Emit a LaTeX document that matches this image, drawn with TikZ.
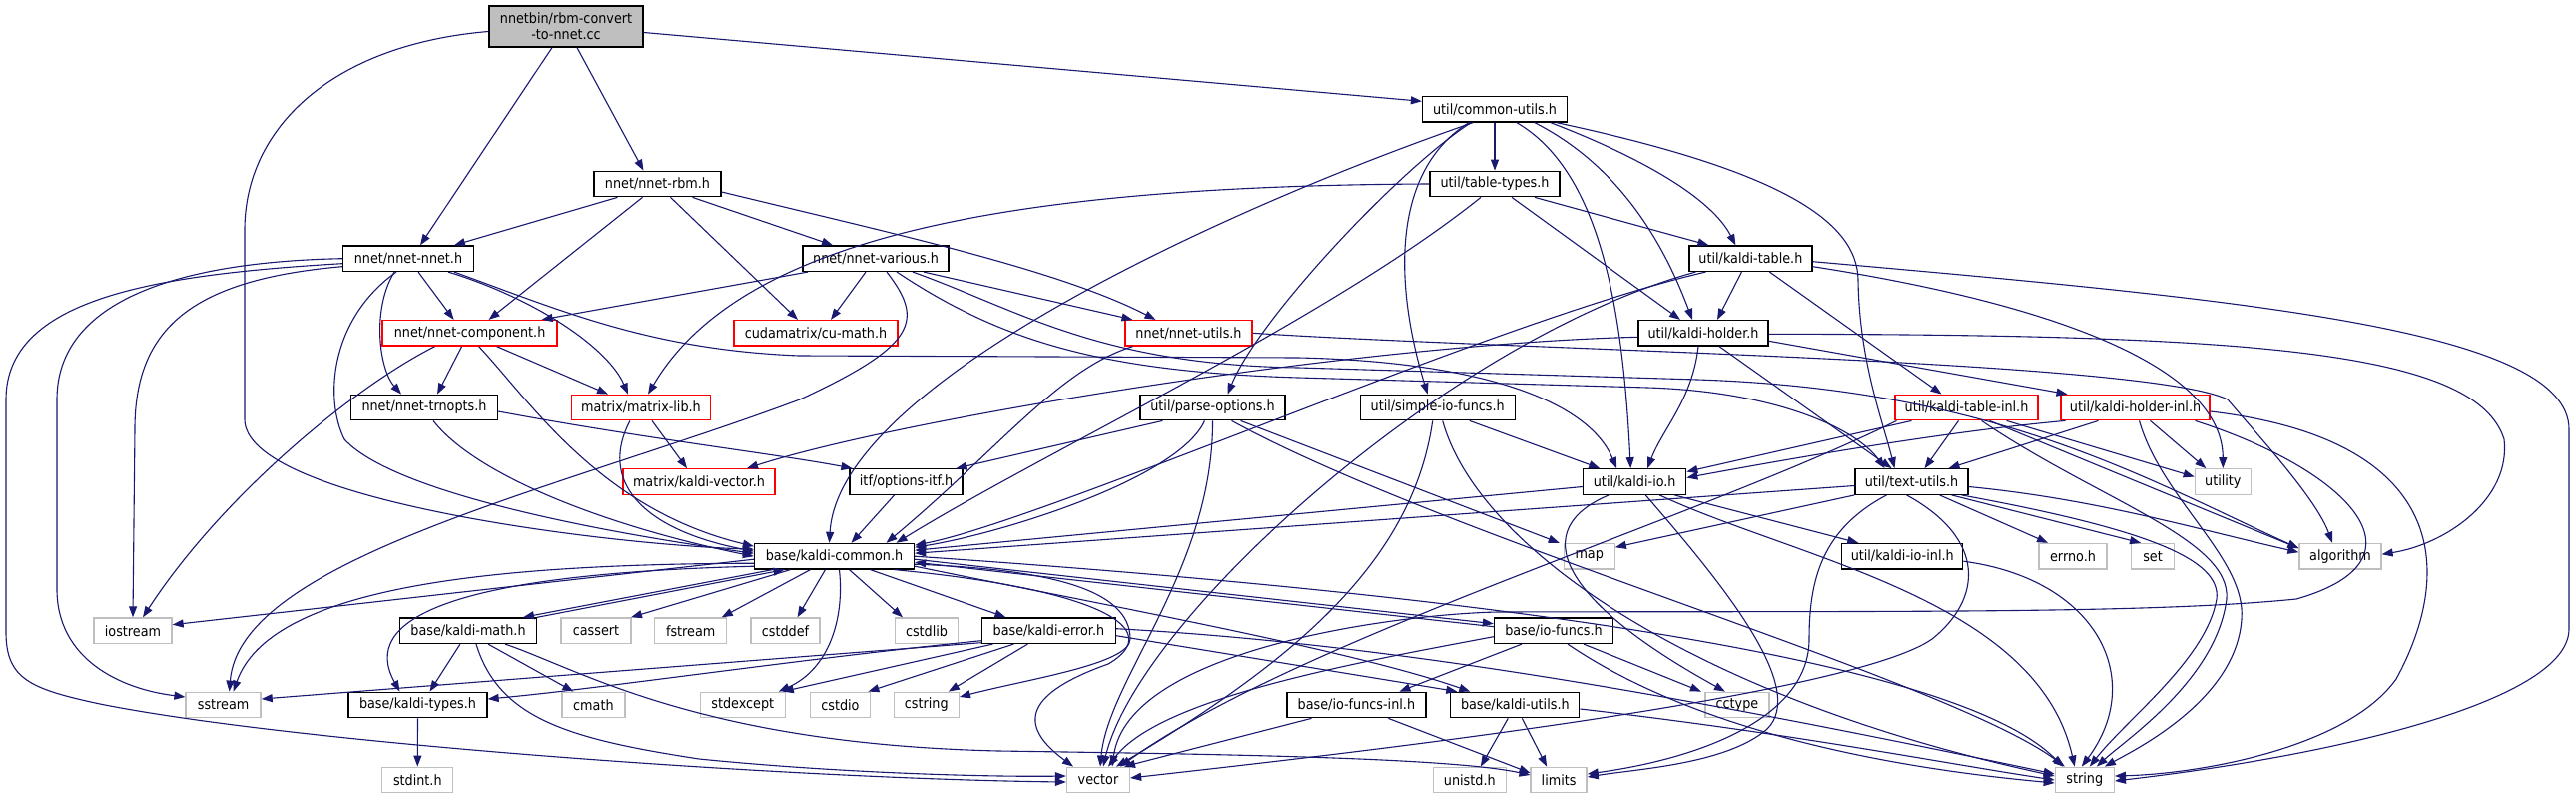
\documentclass[tikz,border=0pt]{standalone}
\usepackage{fontspec}
\setmainfont{DejaVu Sans}[FakeStretch=0.9]
\usetikzlibrary{arrows.meta}
\definecolor{edgec}{HTML}{191970}
\definecolor{boxgray}{HTML}{BFBFBF}
\definecolor{boxred}{HTML}{FF0000}
\newcommand\nodefont{\fontsize{14.2pt}{16pt}\selectfont}
\begin{document}
\begin{tikzpicture}[x=1pt,y=-1pt,
  nb/.style={draw=black, fill=white, line width=1.3pt, inner sep=0pt, minimum height=25.5pt, font=\nodefont},
  nr/.style={nb, draw=boxred},
  ng/.style={nb, draw=boxgray},
  inc/.style={draw=edgec, line width=1.1pt, -{Triangle[length=11pt,width=8pt]}}]
\fill[white] (0,0) rectangle (2580,800);
\useasboundingbox (0,0) rectangle (2580,800);
% nodes
\node[nb, fill=boxgray, minimum width=154pt, minimum height=41pt, align=center] (rbm) at (567,26.5) {nnetbin/rbm-convert\\-to-nnet.cc};
\node[nb, minimum width=127pt] (rbmh) at (658.5,184) {nnet/nnet-rbm.h};
\node[nb, minimum width=131pt] (nnet) at (409,258.7) {nnet/nnet-nnet.h};
\node[nb, minimum width=146pt] (various) at (877,258.7) {nnet/nnet-various.h};
\node[nr, minimum width=175pt] (comp) at (470.6,333.3) {nnet/nnet-component.h};
\node[nr, minimum width=164pt] (cumath) at (817,333.3) {cudamatrix/cu-math.h};
\node[nr, minimum width=127pt] (nutils) at (1190.5,333.3) {nnet/nnet-utils.h};
\node[nb, minimum width=147pt] (trnopts) at (425,408) {nnet/nnet-trnopts.h};
\node[nr, minimum width=139pt] (mlib) at (642,408) {matrix/matrix-lib.h};
\node[nr, minimum width=152pt] (vec) at (700,482.5) {matrix/kaldi-vector.h};
\node[nb, minimum width=113pt] (optitf) at (907.6,482.5) {itf/options-itf.h};
\node[nb, minimum width=160pt] (kc) at (835.5,557.2) {base/kaldi-common.h};
\node[nb, minimum width=145pt] (cu) at (1497,109.3) {util/common-utils.h};
\node[nb, minimum width=130pt] (tt) at (1497,184) {util/table-types.h};
\node[nb, minimum width=123pt] (ktab) at (1753.4,258.7) {util/kaldi-table.h};
\node[nb, minimum width=130pt] (khold) at (1706,333.3) {util/kaldi-holder.h};
\node[nb, minimum width=145pt] (po) at (1214.5,408) {util/parse-options.h};
\node[nb, minimum width=155pt] (sio) at (1439.7,408) {util/simple-io-funcs.h};
\node[nr, minimum width=143pt] (ktinl) at (1969.5,408) {util/kaldi-table-inl.h};
\node[nr, minimum width=149pt] (khinl) at (2138.5,408) {util/kaldi-holder-inl.h};
\node[nb, minimum width=103pt] (kio) at (1637.2,482.5) {util/kaldi-io.h};
\node[nb, minimum width=113pt] (tu) at (1914.5,482.5) {util/text-utils.h};
\node[ng, minimum width=56pt] (utility) at (2226.3,482.5) {utility};
\node[ng, minimum width=51pt] (map) at (1591.7,557.2) {map};
\node[nb, minimum width=121pt] (kioinl) at (1905.2,557.2) {util/kaldi-io-inl.h};
\node[ng, minimum width=68pt] (errno) at (2076,557.2) {errno.h};
\node[ng, minimum width=43pt] (set) at (2156,557.2) {set};
\node[ng, minimum width=82pt] (algo) at (2344,557.2) {algorithm};
\node[ng, minimum width=78pt] (iostream) at (133,631.7) {iostream};
\node[nb, minimum width=137pt] (kmath) at (469,631.7) {base/kaldi-math.h};
\node[ng, minimum width=70pt] (cassert) at (597,631.7) {cassert};
\node[ng, minimum width=72pt] (fstream) at (691.7,631.7) {fstream};
\node[ng, minimum width=69pt] (cstddef) at (786.5,631.7) {cstddef};
\node[ng, minimum width=63pt] (cstdlib) at (928,631.7) {cstdlib};
\node[nb, minimum width=134pt] (kerr) at (1050.4,631.7) {base/kaldi-error.h};
\node[nb, minimum width=119pt] (iof) at (1556,631.7) {base/io-funcs.h};
\node[ng, minimum width=75pt] (sstream) at (223.6,706) {sstream};
\node[nb, minimum width=139pt] (ktypes) at (418.5,706) {base/kaldi-types.h};
\node[ng, minimum width=63pt] (cmath) at (594.4,706) {cmath};
\node[ng, minimum width=85pt] (stdexcept) at (743.8,706) {stdexcept};
\node[ng, minimum width=60pt] (cstdio) at (841.4,706) {cstdio};
\node[ng, minimum width=65pt] (cstring) at (927.8,706) {cstring};
\node[nb, minimum width=139pt] (iofinl) at (1358.4,706) {base/io-funcs-inl.h};
\node[nb, minimum width=129pt] (kutils) at (1517.3,706) {base/kaldi-utils.h};
\node[ng, minimum width=64pt] (cctype) at (1739.9,706) {cctype};
\node[ng, minimum width=71pt] (stdint) at (418.3,781) {stdint.h};
\node[ng, minimum width=63pt] (vector) at (1100,781) {vector};
\node[ng, minimum width=73pt] (unistd) at (1471.8,781) {unistd.h};
\node[ng, minimum width=56pt] (limits) at (1561.1,781) {limits};
\node[ng, minimum width=59pt] (string) at (2087.8,781) {string};
% rbm
\draw[inc] ([xshift=-14pt]rbm.south) -- ([xshift=12pt]nnet.north);
\draw[inc] ([xshift=11pt]rbm.south) -- ([xshift=-14pt]rbmh.north);
\draw[inc] ([yshift=-6pt]rbm.east) -- ([yshift=8pt]cu.west);
\draw[inc] ([yshift=-5pt]rbm.west) .. controls (330,45) and (245,130) .. (245,230) -- (245,420) .. controls (245,500) and (600,545) .. ([yshift=7pt]kc.west);
% rbmh
\draw[inc] ([xshift=-40pt]rbmh.south) -- ([xshift=46pt]nnet.north);
\draw[inc] ([xshift=-15pt]rbmh.south) -- ([xshift=19pt]comp.north);
\draw[inc] ([xshift=35pt]rbmh.south) -- ([xshift=-43pt]various.north);
\draw[inc] ([xshift=13pt]rbmh.south) -- ([xshift=-18pt]cumath.north);
\draw[inc] ([yshift=-8pt]rbmh.east) .. controls (900,235) and (1060,270) .. ([xshift=-33pt]nutils.north);
% nnet
\draw[inc] ([yshift=-8pt]nnet.west) .. controls (190,280) and (135,330) .. (135,430) -- (iostream.north);
\draw[inc] (nnet.west) .. controls (180,262) and (57,300) .. (57,400) -- (57,590) .. controls (57,660) and (120,690) .. ([yshift=8pt]sstream.west);
\draw[inc] ([yshift=-5pt]nnet.west) .. controls (150,275) and (6,300) .. (6,400) -- (6,633) .. controls (6,680) and (30,690) .. (100,705) .. controls (300,745) and (800,780) .. ([yshift=-2pt]vector.west);
\draw[inc] ([xshift=-14pt]nnet.south) .. controls (372,310) and (380,370) .. ([xshift=-23pt]trnopts.north);
\draw[inc] ([xshift=-12pt]nnet.south) .. controls (330,320) and (325,400) .. (345,440) .. controls (400,500) and (650,540) .. ([yshift=3pt]kc.west);
\draw[inc] ([xshift=10pt]nnet.south) -- ([xshift=-16pt]comp.north);
\draw[inc] ([xshift=40pt]nnet.south) .. controls (540,300) and (610,350) .. ([xshift=-13pt]mlib.north);
\draw[inc] ([xshift=46pt]nnet.south) .. controls (560,310) and (650,350) .. (800,356) -- (1300,358) .. controls (1480,362) and (1590,400) .. ([xshift=-18pt]kio.north);
% various
\draw[inc] ([xshift=-68pt]various.south) -- ([xshift=72pt]comp.north);
\draw[inc] ([xshift=-10pt]various.south) -- ([xshift=15pt]cumath.north);
\draw[inc] ([xshift=48pt]various.south) -- ([xshift=-56pt]nutils.north);
\draw[inc] ([xshift=11pt]various.south) .. controls (925,320) and (920,345) .. (801,400) .. controls (560,490) and (240,560) .. ([xshift=6pt]sstream.north);
\draw[inc] ([xshift=21pt]various.south) .. controls (1000,340) and (1100,372) .. (1300,378) -- (1650,388) .. controls (1780,392) and (1860,430) .. ([xshift=-27pt]tu.north);
\draw[inc] ([xshift=37pt]various.south) .. controls (1020,310) and (1100,365) .. (1300,368) -- (1700,380) .. controls (2000,390) and (2150,480) .. ([yshift=8pt]algo.west);
% nutils
\draw[inc] ([xshift=-56pt]nutils.south) .. controls (1060,370) and (1000,450) .. ([xshift=52pt]kc.north);
\draw[inc] (nutils.east) .. controls (1500,350) and (2150,360) .. (2231,400) .. controls (2265,440) and (2320,500) .. ([xshift=-8pt]algo.north);
% comp
\draw[inc] ([xshift=-35pt]comp.south) .. controls (350,390) and (220,500) .. ([xshift=10pt]iostream.north);
\draw[inc] ([xshift=-8pt]comp.south) -- ([xshift=13pt]trnopts.north);
\draw[inc] ([xshift=27pt]comp.south) -- ([xshift=-33pt]mlib.north);
\draw[inc] ([xshift=9pt]comp.south) .. controls (530,400) and (600,510) .. ([yshift=10pt]kc.west);
% trnopts
\draw[inc] ([xshift=9pt]trnopts.south) .. controls (480,480) and (620,530) .. ([yshift=0pt]kc.west);
\draw[inc] ([yshift=-4pt]trnopts.east) .. controls (650,440) and (780,455) .. ([xshift=3pt]optitf.north west);
% mlib
\draw[inc] ([xshift=11pt]mlib.south) -- ([xshift=-12pt]vec.north);
\draw[inc] ([xshift=-11pt]mlib.south) .. controls (600,480) and (640,530) .. ([yshift=5pt]kc.west);
% optitf
\draw[inc] ([xshift=-12pt]optitf.south) -- ([xshift=17pt]kc.north);
% tt
\draw[inc] (tt.west) .. controls (1000,186) and (740,240) .. ([xshift=7pt]mlib.north);
\draw[inc] ([xshift=-14pt]tt.south) .. controls (1330,320) and (1050,450) .. ([xshift=62pt]kc.north);
\draw[inc] ([xshift=40pt]tt.south) -- ([xshift=-42pt]ktab.north);
\draw[inc] ([xshift=17pt]tt.south) -- ([xshift=-23pt]khold.north);
% cu
\draw[inc] (cu.south) -- (tt.north);
\draw[inc] ([xshift=56pt]cu.south) .. controls (1650,160) and (1715,200) .. ([xshift=-15pt]ktab.north);
\draw[inc] ([xshift=40pt]cu.south) .. controls (1620,165) and (1665,240) .. ([xshift=-11pt]khold.north);
\draw[inc] ([xshift=22pt]cu.south) .. controls (1600,170) and (1625,300) .. ([xshift=-4pt]kio.north);
\draw[inc] ([xshift=62pt]cu.south) .. controls (1780,170) and (1860,220) .. (1861,280) .. controls (1862,360) and (1885,420) .. ([xshift=-17pt]tu.north);
\draw[inc] ([xshift=-26pt]cu.south) .. controls (1395,170) and (1395,280) .. ([xshift=-10pt]sio.north);
\draw[inc] ([xshift=-24pt]cu.south) .. controls (1400,170) and (1260,320) .. ([xshift=15pt]po.north);
\draw[inc] ([xshift=-22pt]cu.south) .. controls (1250,200) and (840,380) .. ([xshift=-5pt]kc.north);
% ktab
\draw[inc] ([xshift=-9pt]ktab.south) -- ([xshift=14pt]khold.north);
\draw[inc] ([xshift=19pt]ktab.south) -- ([xshift=-25pt]ktinl.north);
\draw[inc] ([yshift=-8pt]ktab.east) .. controls (2030,300) and (2226,360) .. (utility.north);
\draw[inc] ([yshift=-3pt]ktab.east) .. controls (2250,300) and (2573,330) .. (2573,430) -- (2573,630) .. controls (2573,700) and (2350,755) .. ([yshift=-1pt]string.east);
\draw[inc] ([xshift=-45pt]ktab.south) .. controls (1500,320) and (1050,520) .. ([yshift=11pt]kc.east);
\draw[inc] ([xshift=-55pt]ktab.south) .. controls (1450,340) and (1140,620) .. ([xshift=5pt]vector.north);
% khold
\draw[inc] ([yshift=-4pt]khold.west) .. controls (1350,345) and (900,420) .. ([xshift=48pt]vec.north);
\draw[inc] ([xshift=-5pt]khold.south) .. controls (1695,400) and (1665,430) .. ([xshift=13pt]kio.north);
\draw[inc] ([xshift=16pt]khold.south) -- ([xshift=-20pt]tu.north);
\draw[inc] ([yshift=-8pt]khold.east) -- ([xshift=-68pt]khinl.north);
\draw[inc] ([yshift=-1pt]khold.east) .. controls (2250,335) and (2480,350) .. (2508,440) .. controls (2515,500) and (2450,545) .. ([yshift=2pt]algo.east);
% po
\draw[inc] ([xshift=-50pt]po.south) -- ([xshift=50pt]optitf.north);
\draw[inc] ([xshift=-8pt]po.south) .. controls (1180,480) and (1000,535) .. ([yshift=9pt]kc.east);
\draw[inc] (po.south) .. controls (1215,570) and (1110,680) .. ([xshift=2pt]vector.north);
\draw[inc] ([xshift=28pt]po.south) -- ([xshift=-30pt]map.north);
\draw[inc] ([xshift=19pt]po.south) .. controls (1450,540) and (1950,680) .. ([xshift=-20pt]string.north);
% sio
\draw[inc] ([xshift=32pt]sio.south) -- ([xshift=-35pt]kio.north);
\draw[inc] ([xshift=-5pt]sio.south) .. controls (1415,560) and (1300,660) .. ([xshift=18pt]vector.north);
\draw[inc] ([xshift=5pt]sio.south) .. controls (1480,550) and (1700,700) .. ([yshift=4pt]string.west);
% kio
\draw[inc] ([yshift=-5pt]kio.west) -- ([yshift=6pt]kc.east);
\draw[inc] ([xshift=-26pt]kio.south) .. controls (1530,530) and (1560,600) .. ([xshift=-12pt]cctype.north);
\draw[inc] ([xshift=11pt]kio.south) .. controls (1730,590) and (1810,690) .. (1770,730) .. controls (1730,765) and (1640,770) .. ([yshift=3pt]limits.east);
\draw[inc] ([xshift=25pt]kio.south) .. controls (1800,560) and (2040,600) .. ([xshift=-10pt]string.north);
\draw[inc] ([xshift=40pt]kio.south) -- ([xshift=-44pt]kioinl.north);
% tu
\draw[inc] ([yshift=-4pt]tu.west) -- ([yshift=3pt]kc.east);
\draw[inc] (tu.south west) -- ([yshift=9pt]map.east);
\draw[inc] ([xshift=28pt]tu.south) -- ([xshift=-25pt]errno.north);
\draw[inc] ([xshift=40pt]tu.south) -- ([xshift=-12pt]set.north);
\draw[inc] ([yshift=-5pt]tu.east) .. controls (2100,500) and (2200,530) .. ([yshift=4pt]algo.west);
\draw[inc] ([xshift=50pt]tu.south) .. controls (2150,530) and (2225,560) .. (2220,600) .. controls (2210,660) and (2130,720) .. ([xshift=5pt]string.north);
\draw[inc] ([xshift=-25pt]tu.south) .. controls (1825,530) and (1812,580) .. (1812,640) .. controls (1812,720) and (1700,760) .. ([yshift=6pt]limits.east);
\draw[inc] ([xshift=-5pt]tu.south) .. controls (1990,540) and (1985,600) .. (1935,640) .. controls (1850,700) and (1300,760) .. ([yshift=2pt]vector.east);
% kioinl
\draw[inc] ([yshift=-5pt]kioinl.east) .. controls (2100,580) and (2150,680) .. ([xshift=-3pt]string.north);
% ktinl
\draw[inc] ([xshift=-55pt]ktinl.south) -- ([yshift=10pt]kio.east);
\draw[inc] ([xshift=-8pt]ktinl.south) -- ([xshift=13pt]tu.north);
\draw[inc] ([xshift=15pt]ktinl.south) .. controls (2100,500) and (2235,540) .. (2230,600) .. controls (2220,680) and (2130,740) .. ([xshift=12pt]string.north);
\draw[inc] ([xshift=23pt]ktinl.south) -- ([yshift=8pt]algo.west);
\draw[inc] ([xshift=40pt]ktinl.south) -- ([yshift=5pt]utility.west);
\draw[inc] ([xshift=-70pt]ktinl.south) .. controls (1700,520) and (1300,640) .. ([xshift=22pt]vector.north);
% khinl
\draw[inc] ([xshift=-70pt]khinl.south) .. controls (1950,432) and (1800,458) .. ([yshift=4pt]kio.east);
\draw[inc] ([xshift=-37pt]khinl.south) -- ([xshift=37pt]tu.north);
\draw[inc] ([xshift=4pt]khinl.south) .. controls (2165,500) and (2250,560) .. (2245,620) .. controls (2240,700) and (2140,750) .. ([xshift=20pt]string.north);
\draw[inc] ([xshift=15pt]khinl.south) -- ([xshift=-17pt]utility.north);
\draw[inc] ([xshift=60pt]khinl.south) .. controls (2350,470) and (2440,560) .. (2300,600) .. controls (2150,615) and (1900,612) .. (1500,613) .. controls (1400,615) and (1130,650) .. ([xshift=14pt]vector.north);
\draw[inc] ([yshift=-4pt]khinl.east) .. controls (2450,440) and (2460,570) .. (2400,680) .. controls (2350,750) and (2200,775) .. ([yshift=4pt]string.east);
% kc
\draw[inc] ([yshift=-3pt]kc.west) -- ([yshift=6pt]iostream.east);
\draw[inc] ([yshift=-7pt]kc.west) .. controls (480,565) and (270,590) .. ([xshift=10pt]sstream.north);
\draw[inc] ([yshift=-10pt]kc.west) .. controls (450,575) and (360,620) .. ([xshift=-18pt]ktypes.north);
\draw[inc] ([xshift=-62pt]kc.south) -- ([xshift=55pt]kmath.north);
\draw[inc] (kmath.north east) -- ([xshift=-50pt]kc.south);
\draw[inc] ([xshift=-44pt]kc.south) -- ([xshift=35pt]cassert.north);
\draw[inc] ([xshift=-24pt]kc.south) -- ([xshift=31pt]fstream.north);
\draw[inc] ([xshift=-9pt]kc.south) -- ([xshift=12pt]cstddef.north);
\draw[inc] ([xshift=15pt]kc.south) -- ([xshift=-24pt]cstdlib.north);
\draw[inc] ([xshift=36pt]kc.south) -- ([xshift=-43pt]kerr.north);
\draw[inc] ([xshift=5pt]kc.south) .. controls (846,620) and (830,670) .. ([xshift=36pt]stdexcept.north);
\draw[inc] ([xshift=60pt]kc.south) .. controls (1100,590) and (1170,630) .. (1110,665) .. controls (1040,690) and (1010,720) .. ([xshift=-25pt]vector.north);
\draw[inc] ([yshift=-8pt]kc.east) .. controls (1050,570) and (1132,590) .. (1132,640) .. controls (1132,665) and (1030,680) .. ([yshift=8pt]cstring.east);
\draw[inc] (kc.east) .. controls (1400,590) and (1950,650) .. ([xshift=-22pt]string.north);
\draw[inc] ([yshift=-3pt]kc.east) -- ([yshift=7pt]iof.west);
\draw[inc] ([yshift=4pt]iof.west) -- ([yshift=-6pt]kc.east);
\draw[inc] ([yshift=-10pt]kc.east) .. controls (1100,605) and (1350,650) .. ([xshift=-45pt]kutils.north);
% kerr
\draw[inc] ([yshift=-12pt]kerr.west) -- ([yshift=6pt]sstream.east);
\draw[inc] ([yshift=-10pt]kerr.west) .. controls (800,660) and (600,690) .. ([yshift=6pt]ktypes.east);
\draw[inc] ([xshift=-56pt]kerr.south) -- ([xshift=40pt]stdexcept.north);
\draw[inc] ([xshift=-35pt]kerr.south) -- ([xshift=28pt]cstdio.north);
\draw[inc] ([xshift=-21pt]kerr.south) -- ([xshift=22pt]cstring.north);
\draw[inc] ([yshift=-5pt]kerr.east) -- ([xshift=-58pt]kutils.north);
\draw[inc] ([yshift=2pt]kerr.east) .. controls (1400,645) and (1700,700) .. ([yshift=6pt]string.west);
% kmath
\draw[inc] ([xshift=-8pt]kmath.south) -- ([xshift=12pt]ktypes.north);
\draw[inc] ([xshift=20pt]kmath.south) -- ([xshift=-20pt]cmath.north);
\draw[inc] ([xshift=8pt]kmath.south) .. controls (500,720) and (570,740) .. (700,760) .. controls (850,775) and (1000,778) .. ([yshift=4pt]vector.west);
\draw[inc] ([xshift=37pt]kmath.south) .. controls (580,670) and (700,745) .. (1000,752) .. controls (1200,755) and (1450,758) .. ([yshift=5pt]limits.west);
% iof
\draw[inc] ([xshift=-32pt]iof.south) -- ([xshift=43pt]iofinl.north);
\draw[inc] ([xshift=30pt]iof.south) -- ([xshift=-36pt]cctype.north);
\draw[inc] ([xshift=14pt]iof.south) .. controls (1680,720) and (1850,765) .. ([yshift=-3pt]string.west);
\draw[inc] ([yshift=-6pt]iof.west) .. controls (1350,665) and (1160,700) .. ([xshift=10pt]vector.north);
% iofinl
\draw[inc] ([xshift=-45pt]iofinl.south) -- ([xshift=26pt]vector.north);
\draw[inc] ([xshift=32pt]iofinl.south) -- ([yshift=7pt]limits.west);
% kutils
\draw[inc] ([xshift=-7pt]kutils.south) -- ([xshift=11pt]unistd.north);
\draw[inc] ([xshift=7pt]kutils.south) -- ([xshift=-12pt]limits.north);
\draw[inc] ([yshift=-4pt]kutils.east) .. controls (1800,735) and (1950,765) .. (string.west);
% ktypes
\draw[inc] (ktypes.south) -- (stdint.north);
\end{tikzpicture}
\end{document}
